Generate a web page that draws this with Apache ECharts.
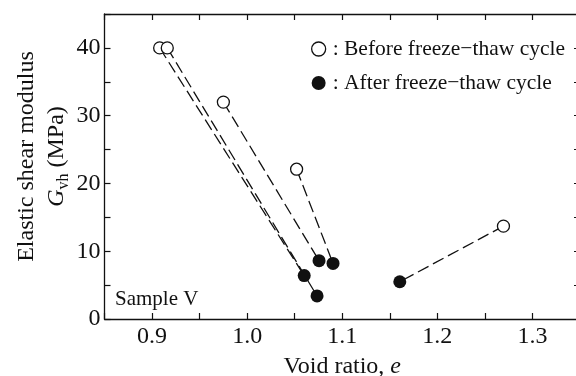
<!DOCTYPE html>
<html>
<head>
<meta charset="utf-8">
<script src="https://cdn.jsdelivr.net/npm/echarts@6/dist/echarts.min.js"></script>
<style>
html,body{margin:0;padding:0;background:#fff;}
#chart{width:576px;height:376px;}
</style>
</head>
<body>
<div id="chart"></div>
<script>
// Paired specimens: before freeze-thaw (open) -> after freeze-thaw (filled)
var beforeE = [0.908, 0.916, 0.975, 1.052, 1.2695];
var beforeG = [40.0, 40.0, 32.0, 22.1, 13.7];
var afterE  = [1.060, 1.0735, 1.0756, 1.0903, 1.1605];
var afterG  = [6.4, 3.4, 8.6, 8.2, 5.5];
var xTickLabels = ['0.9', '1.0', '1.1', '1.2', '1.3'];
var yTickLabels = ['0', '10', '20', '30', '40'];
var legendNames = [': Before freeze\u2212thaw cycle', ': After freeze\u2212thaw cycle'];

var FONT = '"Liberation Serif", "Times New Roman", serif';
var INK = '#111111';

var series = [];
for (var i = 0; i < beforeE.length; i++) {
  series.push({
    type: 'line',
    data: [[beforeE[i], beforeG[i]], [afterE[i], afterG[i]]],
    symbol: 'none',
    silent: true,
    z: 1,
    lineStyle: { color: INK, width: 1.3, type: [12, 5] }
  });
}
series.push({
  name: legendNames[0],
  type: 'scatter',
  data: beforeE.map(function (e, i) { return [e, beforeG[i]]; }),
  symbol: 'circle',
  symbolSize: 12,
  z: 3,
  itemStyle: { color: '#fff', borderColor: INK, borderWidth: 1.3, opacity: 1 }
});
series.push({
  name: legendNames[1],
  type: 'scatter',
  data: afterE.map(function (e, i) { return [e, afterG[i]]; }),
  symbol: 'circle',
  symbolSize: 13,
  z: 3,
  itemStyle: { color: INK, borderColor: INK, borderWidth: 0, opacity: 1 }
});

function xLabel(v) {
  var s = (Math.round(v * 100) / 100).toFixed(1);
  return (Math.abs(Math.round(v * 10) - v * 10) < 1e-6 && xTickLabels.indexOf(s) >= 0) ? s : '';
}
function yLabel(v) {
  var s = String(Math.round(v));
  return (Math.abs(v % 10) < 1e-6 && yTickLabels.indexOf(s) >= 0) ? s : '';
}

var axisCommon = {
  axisLine: { show: true, onZero: false, lineStyle: { color: INK, width: 1.3 } },
  axisTick: { show: true, inside: true, length: 6, lineStyle: { color: INK, width: 1.2 } },
  splitLine: { show: false }
};

var chart = echarts.init(document.getElementById('chart'), null, { renderer: 'canvas' });
chart.setOption({
  backgroundColor: '#fff',
  animation: false,
  grid: { left: 104.5, right: -4, top: 14, bottom: 57, outerBoundsMode: 'none', containLabel: false },
  legend: {
    orient: 'vertical',
    left: 306,
    top: 33,
    itemGap: 12,
    itemWidth: 14,
    itemHeight: 14,
    icon: 'circle',
    textStyle: { fontFamily: FONT, fontSize: 21.5, color: INK, padding: [0, 0, 0, 2] },
    data: [
      { name: legendNames[0], itemStyle: { color: '#fff', borderColor: INK, borderWidth: 1.3, opacity: 1 } },
      { name: legendNames[1], itemStyle: { color: INK, opacity: 1 } }
    ]
  },
  xAxis: [
    Object.assign({}, axisCommon, {
      type: 'value', position: 'bottom', min: 0.85, max: 1.35, interval: 0.05,
      axisLabel: { formatter: xLabel, fontFamily: FONT, fontSize: 24, color: INK, margin: 6 },
      name: '{a|Void ratio, }{i|e}',
      nameLocation: 'middle',
      nameGap: 36,
      nameMoveOverlap: false,
      nameTextStyle: {
        rich: {
          a: { fontFamily: FONT, fontSize: 24, color: INK },
          i: { fontFamily: FONT, fontSize: 24, color: INK, fontStyle: 'italic' }
        }
      }
    }),
    Object.assign({}, axisCommon, {
      type: 'value', position: 'top', min: 0.85, max: 1.35, interval: 0.05,
      axisLabel: { show: false }
    })
  ],
  yAxis: [
    Object.assign({}, axisCommon, {
      type: 'value', position: 'left', min: 0, max: 45, interval: 5,
      axisLabel: { formatter: yLabel, fontFamily: FONT, fontSize: 24, color: INK, margin: 4 },
      name: '{a|Elastic shear modulus}\n{g|G}{s|vh}{a| (MPa)}',
      nameLocation: 'middle',
      nameRotate: 90,
      nameGap: 33,
      nameMoveOverlap: false,
      nameTextStyle: {
        padding: [0, 0, 0, 20],
        lineHeight: 30,
        rich: {
          a: { fontFamily: FONT, fontSize: 24, color: INK, lineHeight: 30 },
          g: { fontFamily: FONT, fontSize: 24, color: INK, fontStyle: 'italic', lineHeight: 30 },
          s: { fontFamily: FONT, fontSize: 16, color: INK, lineHeight: 30, verticalAlign: 'bottom' }
        }
      }
    }),
    Object.assign({}, axisCommon, {
      type: 'value', position: 'right', min: 0, max: 45, interval: 5,
      axisLabel: { show: false }
    })
  ],
  graphic: [{
    type: 'text',
    left: 115,
    top: 289,
    style: { text: 'Sample V', font: '21px ' + FONT, fill: INK }
  }],
  series: series
});
</script>
</body>
</html>
